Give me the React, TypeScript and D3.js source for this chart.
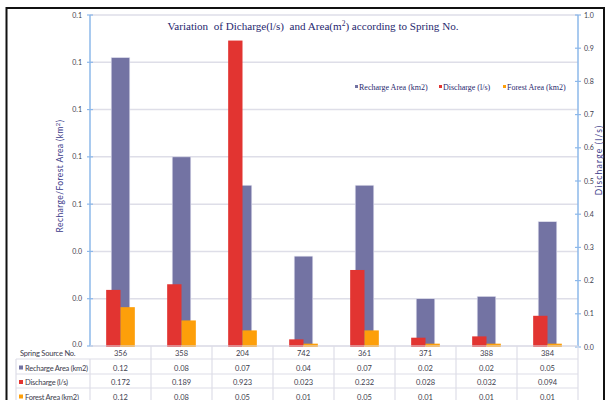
import React from "react";
import * as d3 from "d3";

const springs = ["356", "358", "204", "742", "361", "371", "388", "384"];
const rechargeArea = [0.122, 0.08, 0.068, 0.038, 0.068, 0.02, 0.021, 0.0526];
const discharge = [0.172, 0.189, 0.923, 0.023, 0.232, 0.028, 0.032, 0.094];
const forestArea = [0.12, 0.08, 0.05, 0.01, 0.05, 0.01, 0.01, 0.01];
const leftTicks = [0, 0.02, 0.04, 0.06, 0.08, 0.1, 0.12, 0.14];
const rightTicks = [0, 0.1, 0.2, 0.3, 0.4, 0.5, 0.6, 0.7, 0.8, 0.9, 1.0];
const seriesNames = ["Recharge Area (km2)", "Discharge (l/s)", "Forest Area (km2)"];

const C_PURPLE = "#7373a3";
const C_RED = "#e23431";
const C_ORANGE = "#fd9f0a";
const NAVY = "#27276e";
const AXIS_BLUE = "#8db8ea";
const GRID = "#dedee8";
const TXT = "#3d3d4d";

export default function App() {
  const W = 608, H = 400;
  const x0 = 90, x1 = 578, yTop = 15, yBot = 346;
  const x = d3.scaleBand<string>().domain(springs).range([x0, x1]).padding(0);
  const yL = d3.scaleLinear().domain([0, 0.14]).range([yBot, yTop]);
  const yR = d3.scaleLinear().domain([0, 1]).range([yBot + 1, yTop]);
  const bw = x.bandwidth();
  const fL = d3.format(".1f");
  const f2 = d3.format(".2f");
  const f3 = d3.format(".3f");
  const font = "Lato, 'Open Sans', sans-serif";
  const serif = "'Liberation Serif', 'DejaVu Serif', serif";

  const rowLines = [359, 374, 388, 403];
  const rowText = [352.5, 367.5, 382, 396.5];
  const rows = [
    { name: seriesNames[0], color: C_PURPLE, vals: rechargeArea.map(f2) },
    { name: seriesNames[1], color: C_RED, vals: discharge.map(f3) },
    { name: seriesNames[2], color: C_ORANGE, vals: forestArea.map(f2) },
  ];

  return (
    <svg width={W} height={H} style={{ position: "absolute", left: 0, top: 0, background: "#fff" }}>
      <rect x={0} y={0} width={W} height={H} fill="#fff" />
      {/* frame */}
      <rect x={6.5} y={8} width={597.5} height={400} fill="none" stroke="#111" strokeWidth={2} />

      {/* gridlines */}
      {leftTicks.map((t, i) => (
        <line key={"g" + i} x1={x0} x2={x1} y1={yL(t)} y2={yL(t)} stroke={GRID} strokeWidth={1.5} />
      ))}

      {/* bars */}
      {springs.map((s, i) => {
        const c = (x(s) as number) + bw / 2;
        const pw = bw * 0.305;
        const rw = bw * 0.235;
        return (
          <g key={"b" + s}>
            <rect x={c - pw / 2} y={yL(rechargeArea[i])} width={pw} height={yBot - yL(rechargeArea[i])} fill={C_PURPLE} stroke="#e4e4f0" strokeWidth={0.6} />
            <rect x={c - rw} y={yR(discharge[i])} width={rw} height={yR(0) - yR(discharge[i])} fill={C_RED} />
            <rect x={c} y={yR(forestArea[i])} width={rw} height={yR(0) - yR(forestArea[i])} fill={C_ORANGE} />
          </g>
        );
      })}

      {/* left axis */}
      <line x1={x0} x2={x0} y1={yTop} y2={yBot} stroke={AXIS_BLUE} strokeWidth={1.5} />
      {leftTicks.map((t, i) => (
        <g key={"lt" + i}>
          <line x1={x0 - 3} x2={x0 + 3} y1={yL(t)} y2={yL(t)} stroke={AXIS_BLUE} strokeWidth={1.2} />
          <text x={x0 - 8} y={yL(t) + (i === 0 ? 1 : 2.5)} fontSize={7} fill={TXT} textAnchor="end" fontFamily={font}>{fL(t)}</text>
        </g>
      ))}
      {/* right axis */}
      <line x1={x1} x2={x1} y1={yTop} y2={yR(0)} stroke={AXIS_BLUE} strokeWidth={1.5} />
      {rightTicks.map((t, i) => (
        <g key={"rt" + i}>
          <line x1={x1 - 3} x2={x1 + 3} y1={yR(t)} y2={yR(t)} stroke={AXIS_BLUE} strokeWidth={1.2} />
          <text x={x1 + 6} y={yR(t) + 2.5} fontSize={7} fill={TXT} textAnchor="start" fontFamily={font}>{fL(t)}</text>
        </g>
      ))}

      {/* axis titles */}
      <text transform={`translate(63,176) rotate(-90)`} fontSize={8.5} letterSpacing={0.4} fill="#3b3b8a" textAnchor="middle" fontFamily={font}>
        Recharge/Forest  Area (km<tspan dy={-3} fontSize={6}>2</tspan><tspan dy={3}>)</tspan>
      </text>
      <text transform={`translate(602,160) rotate(-90)`} fontSize={8.5} letterSpacing={1.2} fill="#3b3b8a" textAnchor="middle" fontFamily={font}>
        Discharge (l/s)
      </text>

      {/* title */}
      <text x={313} y={30} fontSize={11.1} fill={NAVY} textAnchor="middle" fontFamily={serif} style={{ whiteSpace: "pre" }}>
        {"Variation  of Dicharge(l/s)  and Area(m"}<tspan dy={-4} fontSize={7.5}>2</tspan><tspan dy={4}>{") according to Spring No."}</tspan>
      </text>

      {/* legend */}
      {[
        { x: 355, c: C_PURPLE, t: seriesNames[0] },
        { x: 439, c: C_RED, t: seriesNames[1] },
        { x: 503, c: C_ORANGE, t: seriesNames[2] },
      ].map((l, i) => (
        <g key={"lg" + i}>
          <rect x={l.x} y={85} width={3} height={3} fill={l.c} />
          <text x={l.x + 4} y={89.5} fontSize={8} fill={NAVY} fontFamily={serif}>{l.t}</text>
        </g>
      ))}

      {/* data table */}
      <line x1={x0} x2={x1} y1={yBot} y2={yBot} stroke={GRID} strokeWidth={1.2} />
      {rowLines.map((y, i) => (
        <line key={"rl" + i} x1={16} x2={x1} y1={y} y2={y} stroke={GRID} strokeWidth={1.2} />
      ))}
      <line x1={16} x2={16} y1={rowLines[0]} y2={H} stroke={GRID} strokeWidth={1.2} />
      {[...springs.map((s) => x(s) as number), x1].map((xx, i) => (
        <line key={"vl" + i} x1={xx} x2={xx} y1={i === 0 ? rowLines[0] : yBot} y2={H} stroke={GRID} strokeWidth={1.2} />
      ))}
      <text x={20} y={rowText[0] + 3} fontSize={7.5} letterSpacing={-0.2} fill={TXT} fontFamily={font}>Spring Source No.</text>
      {springs.map((s) => (
        <text key={"h" + s} x={(x(s) as number) + bw / 2} y={rowText[0] + 3} fontSize={7.5} fill={TXT} textAnchor="middle" fontFamily={font}>{s}</text>
      ))}
      {rows.map((r, ri) => (
        <g key={"row" + ri}>
          <rect x={19} y={rowText[ri + 1] - 2} width={4} height={4} fill={r.color} />
          <text x={25} y={rowText[ri + 1] + 3} fontSize={7.5} letterSpacing={-0.25} fill={TXT} fontFamily={font}>{r.name}</text>
          {r.vals.map((v, i) => (
            <text key={"v" + i} x={(x(springs[i]) as number) + bw / 2} y={rowText[ri + 1] + 3} fontSize={7.5} fill={TXT} textAnchor="middle" fontFamily={font}>{v}</text>
          ))}
        </g>
      ))}
    </svg>
  );
}
